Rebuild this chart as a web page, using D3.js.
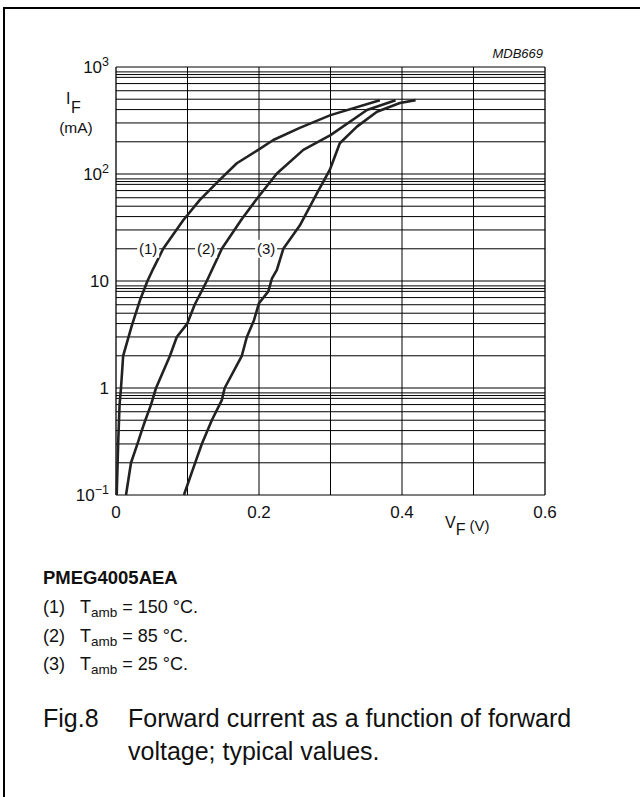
<!DOCTYPE html>
<html>
<head>
<meta charset="utf-8">
<script src="https://cdn.jsdelivr.net/npm/d3@7"></script>
<style>
  body { margin: 0; background: #fff; overflow: hidden; }
  svg { display: block; }
  text { font-family: "Liberation Sans", Arial, Helvetica, sans-serif; fill: #111; }
</style>
</head>
<body>
<script>
// data: forward voltage (V) vs forward current (mA)
const curve150 = [
  [0.001, 0.1], [0.003, 0.3], [0.005, 0.7], [0.007, 1], [0.010, 2], [0.022, 3.8],
  [0.0335, 6.6], [0.044, 10], [0.052, 13], [0.066, 20], [0.094, 37], [0.117, 57],
  [0.145, 88], [0.169, 126], [0.2, 170], [0.22, 208], [0.257, 270], [0.3, 355], [0.369, 490]
];
const curve85 = [
  [0.014, 0.1], [0.021, 0.2], [0.03, 0.3], [0.036, 0.4], [0.041, 0.5], [0.049, 0.7],
  [0.056, 1], [0.0755, 2], [0.085, 3], [0.0997, 4], [0.11, 6], [0.127, 10], [0.148, 20],
  [0.176, 38], [0.199, 61], [0.225, 101], [0.262, 168], [0.3, 231], [0.351, 396], [0.391, 490]
];
const curve25 = [
  [0.095, 0.1], [0.107, 0.17], [0.12, 0.3], [0.134, 0.5], [0.148, 0.77], [0.152, 1],
  [0.176, 2], [0.183, 3], [0.193, 4.3], [0.2, 6.2], [0.213, 8], [0.218, 10.5], [0.225, 12.7],
  [0.234, 20], [0.257, 33], [0.281, 66], [0.299, 109], [0.313, 194], [0.337, 277],
  [0.365, 382], [0.397, 460], [0.419, 490]
];
const curves = [curve150, curve85, curve25];
const curveLabels = ["(1)", "(2)", "(3)"];
const labelVolts = [0.045, 0.126, 0.21];
const labelCurrent = 20;

const xTicks = [0, 0.2, 0.4, 0.6];
const xGrid = [0, 0.1, 0.2, 0.3, 0.4, 0.5, 0.6];
const yTickValues = [0.1, 1, 10, 100, 1000];
const yTickBase = ["10", "1", "10", "10", "10"];
const yTickExp = ["\u22121", "", "", "2", "3"];
const minorSteps = [2, 3, 4, 5, 6, 7, 8, 8.5, 9];

const legendLines = [
  ["(1)", "150 \u00B0C."],
  ["(2)", "85 \u00B0C."],
  ["(3)", "25 \u00B0C."]
];

const width = 640, height = 797;
const plot = { left: 116, right: 545, top: 67, bottom: 495 };

const svg = d3.select("body").append("svg")
  .attr("width", width)
  .attr("height", height);

// page frame (top and left only)
svg.append("path")
  .attr("d", "M4,797 V8 H640")
  .attr("fill", "none")
  .attr("stroke", "#000")
  .attr("stroke-width", 2);

const x = d3.scaleLinear().domain([0, 0.6]).range([plot.left, plot.right]);
const y = d3.scaleLog().domain([0.1, 1000]).range([plot.bottom, plot.top]);

// horizontal grid
const hLines = [];
yTickValues.forEach(d => {
  hLines.push(d);
  if (d < 1000) minorSteps.forEach(m => hLines.push(d * m));
});
svg.append("g").selectAll("line")
  .data(hLines)
  .join("line")
  .attr("x1", plot.left).attr("x2", plot.right)
  .attr("y1", d => y(d)).attr("y2", d => y(d))
  .attr("stroke", "#000")
  .attr("stroke-width", 1);

// vertical grid
svg.append("g").selectAll("line")
  .data(xGrid)
  .join("line")
  .attr("x1", d => x(d)).attr("x2", d => x(d))
  .attr("y1", plot.top).attr("y2", plot.bottom)
  .attr("stroke", "#000")
  .attr("stroke-width", d => (d === 0 || d === 0.6) ? 1.3 : 1);

// curves
const line = d3.line()
  .x(d => x(d[0]))
  .y(d => y(d[1]));

svg.append("g").selectAll("path")
  .data(curves)
  .join("path")
  .attr("d", line)
  .attr("fill", "none")
  .attr("stroke", "#222")
  .attr("stroke-width", 2.6)
  .attr("stroke-linejoin", "round");

// curve labels on the 20 mA grid line
const lab = svg.append("g").selectAll("g")
  .data(curveLabels)
  .join("g")
  .attr("transform", (d, i) => `translate(${x(labelVolts[i])},${y(labelCurrent)})`);
lab.append("rect")
  .attr("x", -11).attr("y", -9)
  .attr("width", 22).attr("height", 18)
  .attr("fill", "#fff");
lab.append("text")
  .attr("text-anchor", "middle")
  .attr("dy", "0.35em")
  .style("font-size", "15px")
  .text(d => d);

// x tick labels
svg.append("g").selectAll("text")
  .data(xTicks)
  .join("text")
  .attr("x", d => x(d))
  .attr("y", 518)
  .attr("text-anchor", "middle")
  .style("font-size", "17px")
  .text(d => d === 0 ? "0" : d3.format(".1f")(d));

// y tick labels
const yl = svg.append("g").selectAll("text")
  .data(yTickValues)
  .join("text")
  .attr("x", 109)
  .attr("y", d => y(d) + 6)
  .attr("text-anchor", "end")
  .style("font-size", "17px");
yl.append("tspan").text((d, i) => yTickBase[i]);
yl.append("tspan")
  .attr("dy", -7)
  .style("font-size", "12.5px")
  .text((d, i) => yTickExp[i]);

// axis titles
const yt = svg.append("text").attr("x", 66).attr("y", 104).style("font-size", "16px");
yt.append("tspan").text("I");
yt.append("tspan").attr("dy", 9).attr("dx", 0.5).text("F");
svg.append("text").attr("x", 76).attr("y", 133)
  .attr("text-anchor", "middle").style("font-size", "15.5px").text("(mA)");

const xt = svg.append("text").attr("x", 445).attr("y", 528).style("font-size", "16px");
xt.append("tspan").text("V");
xt.append("tspan").attr("dy", 7).text("F");
xt.append("tspan").attr("dy", -4).attr("dx", 4).style("font-size", "15px").text("(V)");

svg.append("text")
  .attr("x", 543).attr("y", 58)
  .attr("text-anchor", "end")
  .style("font-size", "13px")
  .style("font-style", "italic")
  .text("MDB669");

// legend below the chart
svg.append("text")
  .attr("x", 43).attr("y", 584)
  .style("font-size", "18.5px")
  .style("font-weight", "bold")
  .text("PMEG4005AEA");

const leg = svg.append("g").selectAll("g")
  .data(legendLines)
  .join("g")
  .attr("transform", (d, i) => `translate(43,${613 + i * 28.5})`);
leg.append("text").style("font-size", "18px").text(d => d[0]);
const lt = leg.append("text").attr("x", 37).style("font-size", "18px");
lt.append("tspan").text("T");
lt.append("tspan").attr("dy", 4).style("font-size", "13.5px").text("amb");
lt.append("tspan").attr("dy", -4).text(d => " = " + d[1]);

// figure caption
svg.append("text").attr("x", 43).attr("y", 727)
  .style("font-size", "25px").text("Fig.8");
svg.append("text").attr("x", 128).attr("y", 727)
  .style("font-size", "25px").text("Forward current as a function of forward");
svg.append("text").attr("x", 128).attr("y", 760)
  .style("font-size", "25px").text("voltage; typical values.");
</script>
</body>
</html>
